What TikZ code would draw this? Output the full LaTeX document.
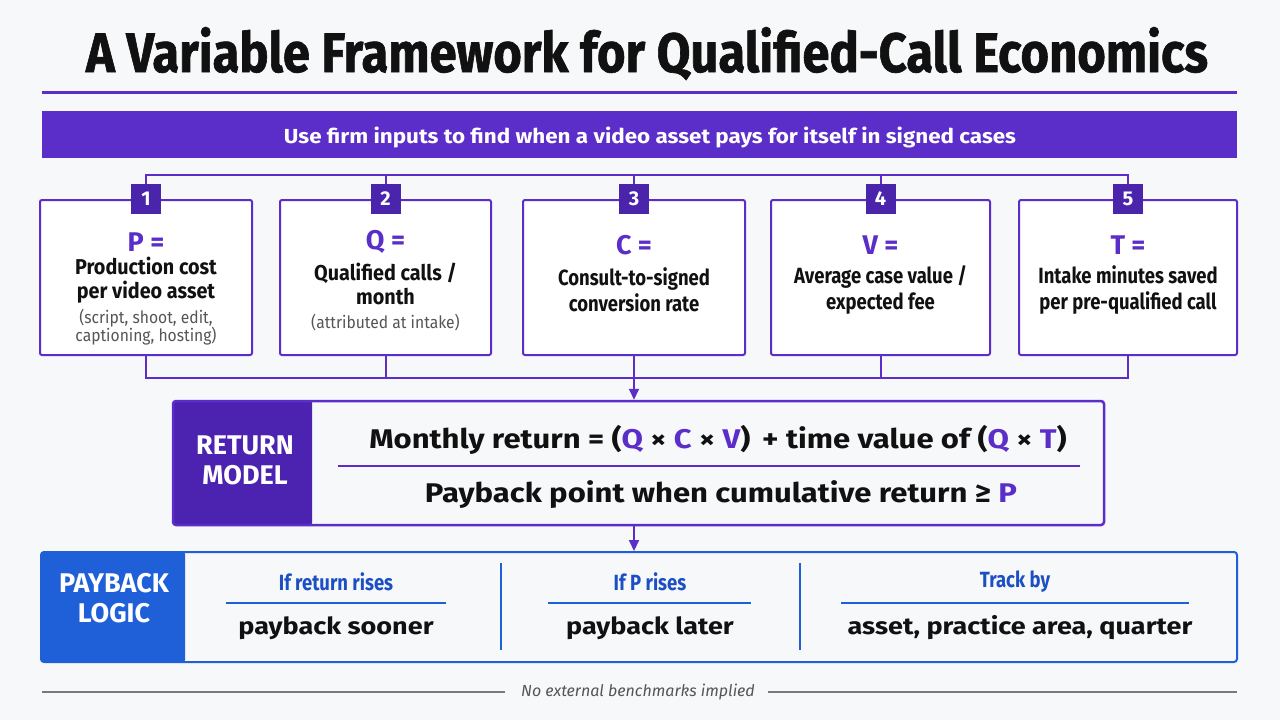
\documentclass[tikz,border=0pt]{standalone}
\usepackage{fontspec}
\usepackage{graphicx}
\setmainfont{Fira Sans}
\newfontfamily\cond[FakeStretch=0.84]{Fira Sans}
\newfontfamily\condb[FakeStretch=0.92]{Fira Sans}
\newfontfamily\wide[FakeStretch=1.15]{Fira Sans}
\newfontfamily\heavy[FakeBold=1.2]{Fira Sans}
\usetikzlibrary{arrows.meta}
\definecolor{bg}{HTML}{F7F8FA}
\definecolor{purp}{HTML}{5B2DC9}
\definecolor{purpd}{HTML}{4C23B0}
\definecolor{badgec}{HTML}{4A24AA}
\definecolor{blu}{HTML}{1F5FD8}
\definecolor{blut}{HTML}{1C4FC4}
\definecolor{ink}{HTML}{111111}
\definecolor{gr}{HTML}{555555}
\definecolor{rulegr}{HTML}{7A7A7A}
\tikzset{
  inbox/.style={draw=purp, line width=2pt, fill=white, rounded corners=2pt, minimum height=155pt, inner sep=0pt},
  badge/.style={fill=badgec, text=white, minimum size=30pt, inner sep=0pt, font=\bfseries\fontsize{20}{20}\selectfont},
  conn/.style={draw=purp, line width=2pt},
  arr/.style={conn, -{Triangle[length=11pt,width=10pt]}},
  vartxt/.style={text=purp, font=\bfseries\fontsize{27}{27}\selectfont, inner sep=0pt},
  desca/.style={text=ink, align=center, font=\condb\bfseries\fontsize{21.5}{24}\selectfont, inner sep=0pt},
  descb/.style={text=ink, align=center, font=\cond\bfseries\fontsize{22}{26}\selectfont, inner sep=0pt},
  subtxt/.style={text=gr, align=center, font=\condb\fontsize{17}{18.5}\selectfont, inner sep=0pt},
  paneltxt/.style={text=white, align=center, font=\bfseries\fontsize{27}{30}\selectfont, inner sep=0pt},
  bluehead/.style={text=blut, font=\cond\bfseries\fontsize{22}{22}\selectfont, inner sep=0pt},
  blackval/.style={text=ink, font=\wide\bfseries\fontsize{23.5}{24}\selectfont, inner sep=0pt},
  modeltxt/.style={inner sep=0pt, text=ink, font=\wide\bfseries\fontsize{27}{27}\selectfont},
}
\begin{document}
\begin{tikzpicture}[x=1pt,y=-1pt]
\useasboundingbox[fill=bg] (0,0) rectangle (1280,720);

% title
\node[anchor=base, inner sep=0pt, text=ink] (title) at (647,72)
  {\resizebox{1122pt}{45pt}{\heavy\bfseries A Variable Framework for Qualified-Call Economics}};
\draw[purp, line width=3pt] (42,92) -- (1237,92);

% banner
\node[fill=purp, minimum width=1195pt, minimum height=47pt, inner sep=0pt] (banner) at (639.5,134.5) {};
\node[anchor=base, inner sep=0pt, text=white] (bannertxt) at (650,143)
  {\resizebox{732pt}{16.5pt}{\bfseries Use firm inputs to find when a video asset pays for itself in signed cases}};

% input boxes
\node[inbox, minimum width=212pt] (b1) at (146,277.5) {};
\node[inbox, minimum width=211pt] (b2) at (385.5,277.5) {};
\node[inbox, minimum width=222pt] (b3) at (634,277.5) {};
\node[inbox, minimum width=219pt] (b4) at (880.5,277.5) {};
\node[inbox, minimum width=218pt] (b5) at (1128,277.5) {};

\foreach \i in {1,...,5} {
  \node[badge] (n\i) at (b\i.north) {\i};
}

% top bus
\coordinate (tbus) at (0,175);
\draw[conn] (n1.north) -- (n1.north |- tbus) -- (n5.north |- tbus) -- (n5.north);
\foreach \i in {2,3,4} { \draw[conn] (n\i.north) -- (n\i.north |- tbus); }

% bottom bus
\coordinate (bbus) at (0,378);
\draw[conn] (b1.south) -- (b1.south |- bbus) -- (b5.south |- bbus) -- (b5.south);
\foreach \i in {2,3,4} { \draw[conn] (b\i.south) -- (b\i.south |- bbus); }

% box texts
\node[vartxt] (v1) at (146,242) {P =};
\node[desca] (d1) at (146,280) {Production cost\\per video asset};
\node[subtxt] (s1) at (146,327) {(script, shoot, edit,\\captioning, hosting)};

\node[vartxt] (v2) at (385.5,242) {Q =};
\node[desca] (d2) at (385.5,283.5) {Qualified calls /\\month};
\node[subtxt] (s2) at (385.5,323) {(attributed at intake)};

\node[vartxt] (v3) at (634,245) {C =};
\node[descb] (d3) at (634,290) {Consult-to-signed\\conversion rate};

\node[vartxt] (v4) at (880.5,245) {V =};
\node[descb] (d4) at (880.5,290) {Average case value /\\expected fee};

\node[vartxt] (v5) at (1128,245) {T =};
\node[descb] (d5) at (1128,290) {Intake minutes saved\\per pre-qualified call};

% return model
\node[fill=purpd, minimum width=139pt, minimum height=124pt, inner sep=0pt, rounded corners=2pt] (modelL) at (242.5,463) {};
\node[draw=purp, line width=2.5pt, rounded corners=3pt, minimum width=931pt, minimum height=124pt, inner sep=0pt] (model) at (638.5,463) {};
\node[paneltxt] (modeltxt) at (245,460) {RETURN\\MODEL};
\node[modeltxt] (formula) at (718,440)
  {Monthly return = (\textcolor{purp}{Q} × \textcolor{purp}{C} × \textcolor{purp}{V})\, + time value of (\textcolor{purp}{Q} × \textcolor{purp}{T})};
\draw[purp, line width=2pt] (338,466) -- (1080,466);
\node[modeltxt] (payback) at (721,495)
  {Payback point when cumulative return ≥ \textcolor{purp}{P}};

\draw[arr] (b3.south |- bbus) -- (b3.south |- model.north);

% payback logic
\node[fill=blu, minimum width=144pt, minimum height=110pt, inner sep=0pt, rounded corners=2pt] (payL) at (113,607) {};
\node[draw=blu, line width=2pt, rounded corners=3pt, minimum width=1196pt, minimum height=110pt, inner sep=0pt] (pay) at (639,607) {};
\node[paneltxt] (paytxt) at (114,598) {PAYBACK\\LOGIC};

\draw[arr] (b3.south |- model.south) -- (b3.south |- pay.north);

\draw[blu, line width=1.5pt] (501,563) -- (501,650);
\draw[blu, line width=1.5pt] (800,563) -- (800,650);

\node[bluehead] (h1) at (336,582) {If return rises};
\draw[blu, line width=2pt] (226,603) -- (446,603);
\node[blackval] (r1) at (336,628) {payback sooner};

\node[bluehead] (h2) at (650,582) {If P rises};
\draw[blu, line width=2pt] (548,603) -- (751,603);
\node[blackval] (r2) at (650,628) {payback later};

\node[bluehead] (h3) at (1015,582) {Track by};
\draw[blu, line width=2pt] (841,603) -- (1189,603);
\node[blackval] (r3) at (1020,628) {asset, practice area, quarter};

% footer
\node[inner sep=0pt, text=gr, font=\itshape\fontsize{16}{16}\selectfont] (foot) at (638,692) {No external benchmarks implied};
\draw[rulegr, line width=1.5pt] (42,692) -- (505,692);
\draw[rulegr, line width=1.5pt] (768,692) -- (1237,692);
\end{tikzpicture}
\end{document}
